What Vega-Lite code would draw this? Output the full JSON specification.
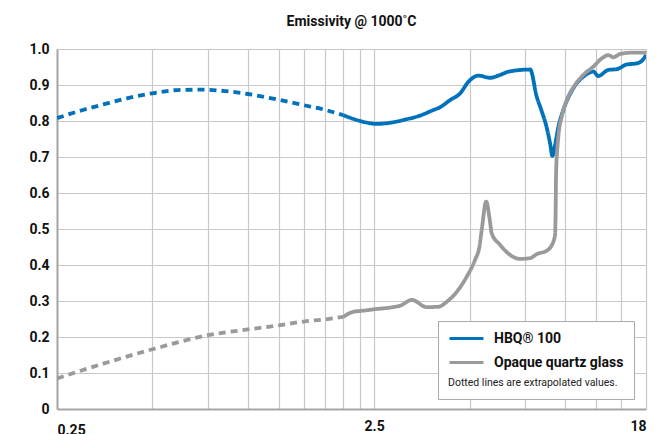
{
  "$schema": "https://vega.github.io/schema/vega-lite/v6.json",
  "width": 589,
  "height": 360,
  "autosize": {"type": "none"},
  "padding": {"left": 57, "top": 49, "right": 12, "bottom": 25},
  "background": "white",
  "title": {
    "text": "Emissivity @ 1000˚C",
    "anchor": "middle",
    "font": "Roboto",
    "fontSize": 14,
    "fontWeight": "bold",
    "color": "#111111",
    "offset": 13
  },
  "config": {
    "view": {"stroke": null},
    "font": "Roboto"
  },
  "data": {
    "values": [
      {"s": "HBQ® 100", "seg": "extrapolated", "x": 0.25, "y": 0.808},
      {"s": "HBQ® 100", "seg": "extrapolated", "x": 0.3, "y": 0.83},
      {"s": "HBQ® 100", "seg": "extrapolated", "x": 0.35, "y": 0.846},
      {"s": "HBQ® 100", "seg": "extrapolated", "x": 0.415, "y": 0.863},
      {"s": "HBQ® 100", "seg": "extrapolated", "x": 0.5, "y": 0.877},
      {"s": "HBQ® 100", "seg": "extrapolated", "x": 0.6, "y": 0.886},
      {"s": "HBQ® 100", "seg": "extrapolated", "x": 0.71, "y": 0.887},
      {"s": "HBQ® 100", "seg": "extrapolated", "x": 0.85, "y": 0.883},
      {"s": "HBQ® 100", "seg": "extrapolated", "x": 1.0, "y": 0.875},
      {"s": "HBQ® 100", "seg": "extrapolated", "x": 1.25, "y": 0.859},
      {"s": "HBQ® 100", "seg": "extrapolated", "x": 1.5, "y": 0.844},
      {"s": "HBQ® 100", "seg": "extrapolated", "x": 1.75, "y": 0.831},
      {"s": "HBQ® 100", "seg": "extrapolated", "x": 2.0, "y": 0.816},
      {"s": "HBQ® 100", "seg": "measured", "x": 2.0, "y": 0.816},
      {"s": "HBQ® 100", "seg": "measured", "x": 2.26, "y": 0.8},
      {"s": "HBQ® 100", "seg": "measured", "x": 2.55, "y": 0.792},
      {"s": "HBQ® 100", "seg": "measured", "x": 2.8, "y": 0.795},
      {"s": "HBQ® 100", "seg": "measured", "x": 3.17, "y": 0.805},
      {"s": "HBQ® 100", "seg": "measured", "x": 3.49, "y": 0.815},
      {"s": "HBQ® 100", "seg": "measured", "x": 3.83, "y": 0.83},
      {"s": "HBQ® 100", "seg": "measured", "x": 4.03, "y": 0.838},
      {"s": "HBQ® 100", "seg": "measured", "x": 4.34, "y": 0.858},
      {"s": "HBQ® 100", "seg": "measured", "x": 4.67, "y": 0.877},
      {"s": "HBQ® 100", "seg": "measured", "x": 4.96, "y": 0.909},
      {"s": "HBQ® 100", "seg": "measured", "x": 5.33, "y": 0.926},
      {"s": "HBQ® 100", "seg": "measured", "x": 5.8, "y": 0.92},
      {"s": "HBQ® 100", "seg": "measured", "x": 6.24, "y": 0.928},
      {"s": "HBQ® 100", "seg": "measured", "x": 6.63, "y": 0.937},
      {"s": "HBQ® 100", "seg": "measured", "x": 7.76, "y": 0.943},
      {"s": "HBQ® 100", "seg": "measured", "x": 8.14, "y": 0.868},
      {"s": "HBQ® 100", "seg": "measured", "x": 8.45, "y": 0.826},
      {"s": "HBQ® 100", "seg": "measured", "x": 8.71, "y": 0.789},
      {"s": "HBQ® 100", "seg": "measured", "x": 8.97, "y": 0.738},
      {"s": "HBQ® 100", "seg": "measured", "x": 9.12, "y": 0.703},
      {"s": "HBQ® 100", "seg": "measured", "x": 9.3, "y": 0.733},
      {"s": "HBQ® 100", "seg": "measured", "x": 9.53, "y": 0.784},
      {"s": "HBQ® 100", "seg": "measured", "x": 9.88, "y": 0.831},
      {"s": "HBQ® 100", "seg": "measured", "x": 10.62, "y": 0.891},
      {"s": "HBQ® 100", "seg": "measured", "x": 11.42, "y": 0.923},
      {"s": "HBQ® 100", "seg": "measured", "x": 12.28, "y": 0.937},
      {"s": "HBQ® 100", "seg": "measured", "x": 12.73, "y": 0.925},
      {"s": "HBQ® 100", "seg": "measured", "x": 13.7, "y": 0.942},
      {"s": "HBQ® 100", "seg": "measured", "x": 14.56, "y": 0.944},
      {"s": "HBQ® 100", "seg": "measured", "x": 15.65, "y": 0.957},
      {"s": "HBQ® 100", "seg": "measured", "x": 16.84, "y": 0.96},
      {"s": "HBQ® 100", "seg": "measured", "x": 17.45, "y": 0.967},
      {"s": "HBQ® 100", "seg": "measured", "x": 18, "y": 0.983},
      {"s": "Opaque quartz glass", "seg": "extrapolated", "x": 0.25, "y": 0.085},
      {"s": "Opaque quartz glass", "seg": "extrapolated", "x": 0.35, "y": 0.126},
      {"s": "Opaque quartz glass", "seg": "extrapolated", "x": 0.5, "y": 0.166},
      {"s": "Opaque quartz glass", "seg": "extrapolated", "x": 0.75, "y": 0.205},
      {"s": "Opaque quartz glass", "seg": "extrapolated", "x": 1.0, "y": 0.221},
      {"s": "Opaque quartz glass", "seg": "extrapolated", "x": 1.25, "y": 0.232},
      {"s": "Opaque quartz glass", "seg": "extrapolated", "x": 1.5, "y": 0.243},
      {"s": "Opaque quartz glass", "seg": "extrapolated", "x": 1.75, "y": 0.249},
      {"s": "Opaque quartz glass", "seg": "extrapolated", "x": 2.0, "y": 0.256},
      {"s": "Opaque quartz glass", "seg": "measured", "x": 2.0, "y": 0.256},
      {"s": "Opaque quartz glass", "seg": "measured", "x": 2.15, "y": 0.27},
      {"s": "Opaque quartz glass", "seg": "measured", "x": 2.31, "y": 0.273},
      {"s": "Opaque quartz glass", "seg": "measured", "x": 2.5, "y": 0.277},
      {"s": "Opaque quartz glass", "seg": "measured", "x": 2.87, "y": 0.283},
      {"s": "Opaque quartz glass", "seg": "measured", "x": 3.02, "y": 0.287},
      {"s": "Opaque quartz glass", "seg": "measured", "x": 3.29, "y": 0.303},
      {"s": "Opaque quartz glass", "seg": "measured", "x": 3.66, "y": 0.283},
      {"s": "Opaque quartz glass", "seg": "measured", "x": 3.99, "y": 0.284},
      {"s": "Opaque quartz glass", "seg": "measured", "x": 4.24, "y": 0.298},
      {"s": "Opaque quartz glass", "seg": "measured", "x": 4.56, "y": 0.326},
      {"s": "Opaque quartz glass", "seg": "measured", "x": 4.9, "y": 0.368},
      {"s": "Opaque quartz glass", "seg": "measured", "x": 5.2, "y": 0.414},
      {"s": "Opaque quartz glass", "seg": "measured", "x": 5.37, "y": 0.451},
      {"s": "Opaque quartz glass", "seg": "measured", "x": 5.46, "y": 0.497},
      {"s": "Opaque quartz glass", "seg": "measured", "x": 5.64, "y": 0.576},
      {"s": "Opaque quartz glass", "seg": "measured", "x": 5.8, "y": 0.52},
      {"s": "Opaque quartz glass", "seg": "measured", "x": 5.87, "y": 0.488},
      {"s": "Opaque quartz glass", "seg": "measured", "x": 6.24, "y": 0.456},
      {"s": "Opaque quartz glass", "seg": "measured", "x": 6.71, "y": 0.428},
      {"s": "Opaque quartz glass", "seg": "measured", "x": 7.21, "y": 0.417},
      {"s": "Opaque quartz glass", "seg": "measured", "x": 7.76, "y": 0.419},
      {"s": "Opaque quartz glass", "seg": "measured", "x": 8.14, "y": 0.43},
      {"s": "Opaque quartz glass", "seg": "measured", "x": 8.76, "y": 0.44},
      {"s": "Opaque quartz glass", "seg": "measured", "x": 9.19, "y": 0.465},
      {"s": "Opaque quartz glass", "seg": "measured", "x": 9.3, "y": 0.485},
      {"s": "Opaque quartz glass", "seg": "measured", "x": 9.34, "y": 0.55},
      {"s": "Opaque quartz glass", "seg": "measured", "x": 9.37, "y": 0.655},
      {"s": "Opaque quartz glass", "seg": "measured", "x": 9.45, "y": 0.72},
      {"s": "Opaque quartz glass", "seg": "measured", "x": 9.53, "y": 0.76},
      {"s": "Opaque quartz glass", "seg": "measured", "x": 9.76, "y": 0.812},
      {"s": "Opaque quartz glass", "seg": "measured", "x": 10.13, "y": 0.858},
      {"s": "Opaque quartz glass", "seg": "measured", "x": 10.75, "y": 0.9},
      {"s": "Opaque quartz glass", "seg": "measured", "x": 11.42, "y": 0.928},
      {"s": "Opaque quartz glass", "seg": "measured", "x": 12.28, "y": 0.951},
      {"s": "Opaque quartz glass", "seg": "measured", "x": 13.06, "y": 0.974},
      {"s": "Opaque quartz glass", "seg": "measured", "x": 13.7, "y": 0.983},
      {"s": "Opaque quartz glass", "seg": "measured", "x": 14.2, "y": 0.977},
      {"s": "Opaque quartz glass", "seg": "measured", "x": 14.9, "y": 0.986},
      {"s": "Opaque quartz glass", "seg": "measured", "x": 16.4, "y": 0.99},
      {"s": "Opaque quartz glass", "seg": "measured", "x": 18, "y": 0.99}
    ]
  },
  "mark": {"type": "line", "interpolate": "monotone", "strokeWidth": 3.8, "clip": true},
  "encoding": {
    "x": {
      "field": "x",
      "type": "quantitative",
      "scale": {"type": "log", "domain": [0.25, 18], "nice": false},
      "axis": {
        "title": null,
        "values": [0.25, 0.5, 0.75, 1, 1.25, 1.5, 1.75, 2, 2.25, 2.5, 5, 7.5, 10, 12.5, 15, 18],
        "labelExpr": "datum.value == 0.25 ? '0.25' : datum.value == 2.5 ? '2.5' : datum.value == 18 ? '18' : ''",
        "labelAlign": {"condition": [{"test": "datum.value <= 0.25", "value": "left"}, {"test": "datum.value >= 18", "value": "right"}], "value": "center"},
        "labelPadding": {"condition": {"test": "datum.value <= 0.25", "value": 14}, "value": 10},
        "labelOverlap": false,
        "labelFont": "Roboto",
        "labelFontSize": 14,
        "labelFontWeight": "bold",
        "labelColor": "#111111",
        "ticks": false,
        "grid": true,
        "gridColor": "#c8c8c8",
        "gridWidth": 1.2,
        "domainColor": "#a6a6a6",
        "domainWidth": 2
      }
    },
    "y": {
      "field": "y",
      "type": "quantitative",
      "scale": {"domain": [0, 1], "nice": false},
      "axis": {
        "title": null,
        "values": [0, 0.1, 0.2, 0.3, 0.4, 0.5, 0.6, 0.7, 0.8, 0.9, 1.0],
        "labelExpr": "datum.value == 0 ? '0' : format(datum.value, '.1f')",
        "labelFont": "Roboto",
        "labelFontSize": 14,
        "labelFontWeight": "bold",
        "labelColor": "#111111",
        "labelPadding": 8,
        "ticks": false,
        "grid": true,
        "gridColor": "#c8c8c8",
        "gridWidth": 1.2,
        "domainColor": "#a6a6a6",
        "domainWidth": 2
      }
    },
    "color": {
      "field": "s",
      "type": "nominal",
      "scale": {"domain": ["HBQ® 100", "Opaque quartz glass"], "range": ["#0072bc", "#9a9a9a"]},
      "legend": {
        "orient": "none",
        "legendX": 381,
        "legendY": 272,
        "title": "Dotted lines are extrapolated values.",
        "titleOrient": "bottom",
        "titleAnchor": "start",
        "titleFont": "Roboto",
        "titleFontSize": 10.5,
        "titleFontWeight": "normal",
        "titleColor": "#222222",
        "titlePadding": 8,
        "titleLimit": 400,
        "symbolType": "M-3,0H3",
        "symbolSize": 128,
        "symbolStrokeWidth": 3,
        "symbolOffset": 11,
        "labelFont": "Roboto",
        "labelFontSize": 14,
        "labelFontWeight": "bold",
        "labelColor": "#111111",
        "labelOffset": 20,
        "labelLimit": 300,
        "padding": 10,
        "strokeColor": "#aaaaaa",
        "fillColor": "white",
        "rowPadding": 9
      }
    },
    "strokeDash": {
      "field": "seg",
      "type": "nominal",
      "scale": {"domain": ["measured", "extrapolated"], "range": [[1, 0], [7, 5]]},
      "legend": null
    }
  }
}
